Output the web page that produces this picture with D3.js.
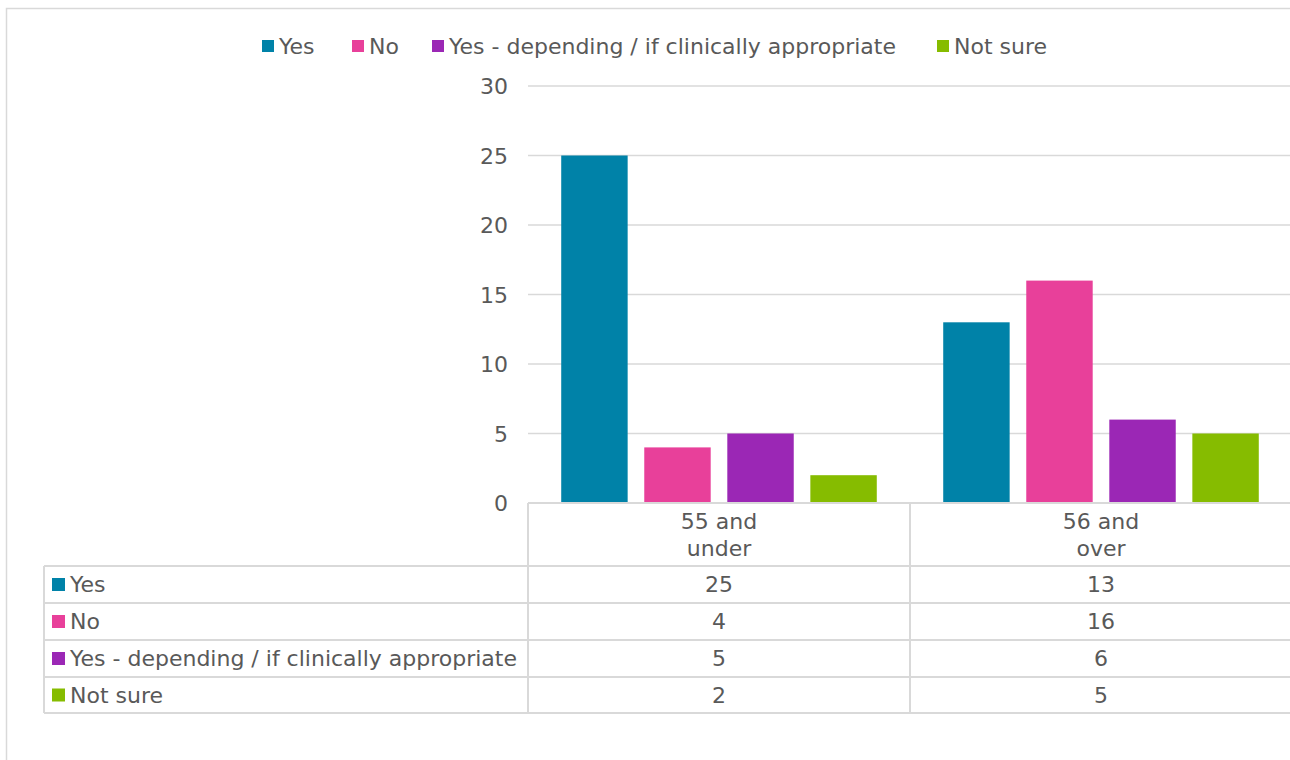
<!DOCTYPE html>
<html>
<head>
<meta charset="utf-8">
<script src="https://cdn.jsdelivr.net/npm/d3@7"></script>
<style>
  html, body { margin: 0; padding: 0; background: #fff; }
  svg { display: block; }
  text { font-family: "DejaVu Sans", sans-serif; fill: #595959; }
</style>
</head>
<body>
<svg id="chart" width="1290" height="760"></svg>
<script>
const categories = [["55 and", "under"], ["56 and", "over"]];
const categoryKeys = ["55 and under", "56 and over"];
const seriesNames = ["Yes", "No", "Yes - depending / if clinically appropriate", "Not sure"];
const seriesColors = ["#0082A8", "#E8409A", "#9B27B5", "#86BC00"];
const valuesYes = [25, 13];
const valuesNo = [4, 16];
const valuesDepending = [5, 6];
const valuesNotSure = [2, 5];
const yTicks = [0, 5, 10, 15, 20, 25, 30];

const seriesValues = [valuesYes, valuesNo, valuesDepending, valuesNotSure];

const svg = d3.select("#chart");
const gridColor = "#d9d9d9";
const fontSize = 22;

// outer chart border
svg.append("rect").attr("x", 6.5).attr("y", 8.5).attr("width", 1400).attr("height", 900)
  .attr("fill", "none").attr("stroke", gridColor).attr("stroke-width", 1.5);

const plotLeft = 528, plotRight = 1292, plotTop = 86, plotBottom = 503;

const x0 = d3.scaleBand().domain(categoryKeys).range([plotLeft, plotRight]).padding(0);
const x1 = d3.scaleBand().domain(seriesNames).range([0, x0.bandwidth()]).paddingInner(0.2).paddingOuter(0.4);
const y = d3.scaleLinear().domain([0, 30]).range([plotBottom, plotTop]);

// gridlines
svg.append("g").selectAll("line").data(yTicks.filter(t => t > 0)).join("line")
  .attr("x1", plotLeft).attr("x2", 1290)
  .attr("y1", d => y(d)).attr("y2", d => y(d))
  .attr("stroke", gridColor).attr("stroke-width", 1.5);

// y axis labels
const yAxis = d3.axisLeft(y).tickValues(yTicks).tickSize(0).tickPadding(0);
const yg = svg.append("g").attr("transform", `translate(${508},0)`).call(yAxis);
yg.select(".domain").remove();
yg.selectAll("text").attr("font-size", fontSize).style("font-family", "DejaVu Sans, sans-serif").attr("fill", "#595959").attr("dy", "0.35em");

// bars
const groups = svg.append("g").selectAll("g").data(categoryKeys).join("g")
  .attr("transform", d => `translate(${x0(d)},0)`);
groups.selectAll("rect").data((d, ci) => seriesNames.map((s, si) => ({s, si, v: seriesValues[si][ci]})))
  .join("rect")
  .attr("x", d => x1(d.s)).attr("width", x1.bandwidth())
  .attr("y", d => y(d.v)).attr("height", d => y(0) - y(d.v))
  .attr("fill", d => seriesColors[d.si]);

// data table
const rowTops = [566, 603, 640, 677, 713];
const tableLeft = 44;
const tg = svg.append("g");
tg.append("line").attr("x1", plotLeft).attr("x2", 1290).attr("y1", plotBottom).attr("y2", plotBottom)
  .attr("stroke", gridColor).attr("stroke-width", 2);
rowTops.forEach(ry => {
  tg.append("line").attr("x1", tableLeft).attr("x2", 1290).attr("y1", ry).attr("y2", ry)
    .attr("stroke", gridColor).attr("stroke-width", 2);
});
tg.append("line").attr("x1", tableLeft).attr("x2", tableLeft).attr("y1", rowTops[0]).attr("y2", rowTops[4])
  .attr("stroke", gridColor).attr("stroke-width", 2);
[plotLeft, plotLeft + x0.bandwidth()].forEach(vx => {
  tg.append("line").attr("x1", vx).attr("x2", vx).attr("y1", plotBottom).attr("y2", rowTops[4])
    .attr("stroke", gridColor).attr("stroke-width", 2);
});

// category header labels
categoryKeys.forEach((c, ci) => {
  const cx = x0(c) + x0.bandwidth() / 2;
  const t = tg.append("text").attr("x", cx).attr("text-anchor", "middle").attr("font-size", fontSize);
  categories[ci].forEach((line, li) => {
    t.append("tspan").attr("x", cx).attr("y", 529 + li * 27).text(line);
  });
});

// rows
seriesNames.forEach((s, si) => {
  const cy = (rowTops[si] + rowTops[si + 1]) / 2;
  tg.append("rect").attr("x", 52).attr("y", cy - 6.5).attr("width", 13).attr("height", 13).attr("fill", seriesColors[si]);
  tg.append("text").attr("x", 70).attr("y", cy).attr("dy", "0.35em").attr("font-size", fontSize).text(s);
  categoryKeys.forEach((c, ci) => {
    tg.append("text").attr("x", x0(c) + x0.bandwidth() / 2).attr("y", cy).attr("dy", "0.35em")
      .attr("text-anchor", "middle").attr("font-size", fontSize).text(seriesValues[si][ci]);
  });
});

// legend
const legendX = [262, 352, 432, 937];
const lg = svg.append("g");
seriesNames.forEach((s, si) => {
  lg.append("rect").attr("x", legendX[si]).attr("y", 40).attr("width", 12).attr("height", 12).attr("fill", seriesColors[si]);
  lg.append("text").attr("x", legendX[si] + 17).attr("y", 46).attr("dy", "0.35em").attr("font-size", fontSize).text(s);
});
</script>
</body>
</html>
